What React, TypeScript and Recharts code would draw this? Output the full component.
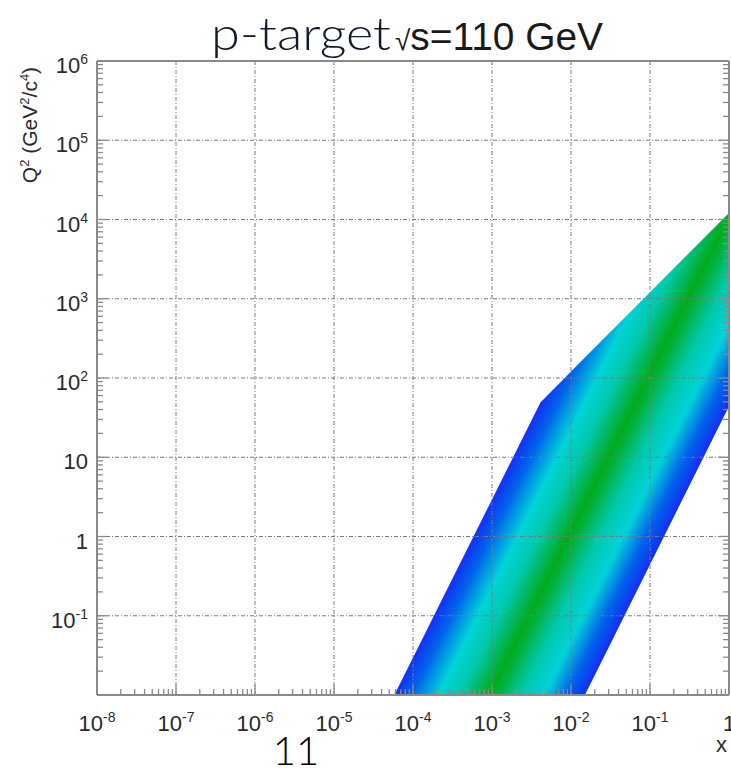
import { Area, ComposedChart, ReferenceLine, XAxis, YAxis } from "recharts";

// band of accessible (x, Q^2) for p-target at sqrt(s)=110 GeV
const bandX = [5.8e-5, 4.1e-3, 1.5e-2, 1];
const bandLow = [0.01, 0.01, 0.01, 44];
const bandHigh = [0.01, 49, 182, 12100];

// axis decades and their labels
const xDecades = [1e-8, 1e-7, 1e-6, 1e-5, 1e-4, 1e-3, 1e-2, 1e-1, 1];
const xLabels: [string, string][] = [
  ["10", "-8"], ["10", "-7"], ["10", "-6"], ["10", "-5"], ["10", "-4"],
  ["10", "-3"], ["10", "-2"], ["10", "-1"], ["1", ""],
];
const yDecades = [1e-2, 1e-1, 1, 10, 1e2, 1e3, 1e4, 1e5, 1e6];
const yLabels: [string, string][] = [
  ["", ""], ["10", "-1"], ["1", ""], ["10", ""], ["10", "2"],
  ["10", "3"], ["10", "4"], ["10", "5"], ["10", "6"],
];
const minorSteps = [2, 3, 4, 5, 6, 7, 8, 9];
const xGrid = [1e-7, 1e-6, 1e-5, 1e-4, 1e-3, 1e-2, 1e-1];
const yGrid = [1e-1, 1, 10, 1e2, 1e3, 1e4, 1e5];

const withMinors = (dec: number[]) => {
  const out: number[] = [];
  dec.forEach((d, i) => {
    out.push(d);
    if (i < dec.length - 1) minorSteps.forEach((m) => out.push(m * d));
  });
  return out;
};
const xTicks = withMinors(xDecades);
const yTicks = withMinors(yDecades);

const data = bandX.map((x, i) => ({ x, range: [bandLow[i], bandHigh[i]] }));

const axisColor = "#8a8a8a";
const labelFont = "'Liberation Sans', Arial, Helvetica, sans-serif";
const thinFont = "Lato, 'Open Sans', sans-serif";
const MAJOR = 10;
const MINOR = 6;

const BottomTick = (props: any) => {
  const { x, y, payload } = props;
  const i = xDecades.indexOf(payload.value);
  const major = i >= 0;
  return (
    <g>
      <line x1={x} x2={x} y1={y} y2={y - (major ? MAJOR : MINOR)} stroke={axisColor} strokeWidth={1.3} />
      {major && (
        <text x={x} y={y + 36} textAnchor="middle" fontSize={22} fill="#2a2a2a" fontFamily={labelFont}>
          {xLabels[i][0]}
          {xLabels[i][1] && (
            <tspan dy={-9} fontSize={14}>{xLabels[i][1]}</tspan>
          )}
        </text>
      )}
    </g>
  );
};

const TopTick = (props: any) => {
  const { x, y, payload } = props;
  const major = xDecades.includes(payload.value);
  return <line x1={x} x2={x} y1={y} y2={y + (major ? MAJOR : MINOR)} stroke={axisColor} strokeWidth={1.3} />;
};

const LeftTick = (props: any) => {
  const { x, y, payload } = props;
  const i = yDecades.indexOf(payload.value);
  const major = i >= 0;
  return (
    <g>
      <line x1={x} x2={x + (major ? MAJOR : MINOR)} y1={y} y2={y} stroke={axisColor} strokeWidth={1.3} />
      {major && yLabels[i][0] && (
        <text x={x - 9} y={y + 12} textAnchor="end" fontSize={22} fill="#2a2a2a" fontFamily={labelFont}>
          {yLabels[i][0]}
          {yLabels[i][1] && (
            <tspan dy={-9} fontSize={14}>{yLabels[i][1]}</tspan>
          )}
        </text>
      )}
    </g>
  );
};

const RightTick = (props: any) => {
  const { x, y, payload } = props;
  const major = yDecades.includes(payload.value);
  return <line x1={x} x2={x - (major ? MAJOR : MINOR)} y1={y} y2={y} stroke={axisColor} strokeWidth={1.3} />;
};

export default function App() {
  return (
    <div style={{ position: "absolute", left: 0, top: 0, width: 731, height: 771, background: "#fff" }}>
      <ComposedChart width={731} height={771} data={data} margin={{ top: 0, right: 0, bottom: 0, left: 0 }}>
        <defs>
          <linearGradient id="bandGrad" gradientUnits="userSpaceOnUse" x1={394} y1={695} x2={546} y2={771}>
            <stop offset="0" stopColor="#1230f4" />
            <stop offset="0.1" stopColor="#0068ea" />
            <stop offset="0.23" stopColor="#00d2d8" />
            <stop offset="0.35" stopColor="#00c8aa" />
            <stop offset="0.45" stopColor="#00b448" />
            <stop offset="0.5" stopColor="#00ac1c" />
            <stop offset="0.56" stopColor="#00b448" />
            <stop offset="0.66" stopColor="#00c8aa" />
            <stop offset="0.79" stopColor="#00d2d8" />
            <stop offset="0.9" stopColor="#0068ea" />
            <stop offset="1" stopColor="#1230f4" />
          </linearGradient>
        </defs>
        <XAxis
          dataKey="x"
          type="number"
          scale="log"
          domain={[1e-8, 1]}
          allowDataOverflow
          ticks={xTicks}
          interval={0}
          tick={BottomTick}
          tickLine={false}
          tickSize={0}
          tickMargin={0}
          height={76}
          axisLine={{ stroke: axisColor, strokeWidth: 2 }}
        />
        <XAxis
          xAxisId="top"
          orientation="top"
          type="number"
          scale="log"
          domain={[1e-8, 1]}
          allowDataOverflow
          ticks={xTicks}
          interval={0}
          tick={TopTick}
          tickLine={false}
          tickSize={0}
          tickMargin={0}
          height={61}
          axisLine={{ stroke: axisColor, strokeWidth: 2 }}
        />
        <YAxis
          type="number"
          scale="log"
          domain={[1e-2, 1e6]}
          allowDataOverflow
          ticks={yTicks}
          interval={0}
          tick={LeftTick}
          tickLine={false}
          tickSize={0}
          tickMargin={0}
          width={97}
          axisLine={{ stroke: axisColor, strokeWidth: 2 }}
        />
        <YAxis
          yAxisId="right"
          orientation="right"
          type="number"
          scale="log"
          domain={[1e-2, 1e6]}
          allowDataOverflow
          ticks={yTicks}
          interval={0}
          tick={RightTick}
          tickLine={false}
          tickSize={0}
          tickMargin={0}
          width={2}
          axisLine={{ stroke: axisColor, strokeWidth: 2 }}
        />
        <Area
          type="linear"
          dataKey="range"
          stroke="none"
          fill="url(#bandGrad)"
          fillOpacity={1}
          isAnimationActive={false}
          dot={false}
          activeDot={false}
        />
        {xGrid.map((v) => (
          <ReferenceLine key={"gx" + v} x={v} stroke="#7a7a7a" strokeDasharray="4 2 1 2" strokeWidth={1} />
        ))}
        {yGrid.map((v) => (
          <ReferenceLine key={"gy" + v} y={v} stroke="#7a7a7a" strokeDasharray="4 2 1 2" strokeWidth={1} />
        ))}
      </ComposedChart>
      <svg width={731} height={771} style={{ position: "absolute", left: 0, top: 0, pointerEvents: "none" }}>
        <text x={211} y={50} fontSize={46} fontWeight={300} fill="#0d1b2a" fontFamily={thinFont} textLength={180} lengthAdjust="spacingAndGlyphs">
          p-target
        </text>
        <text x={395} y={50} fontSize={39} fill="#1a1a1a" fontFamily={labelFont} textLength={208} lengthAdjust="spacingAndGlyphs">
          <tspan fontSize={28}>√</tspan>
          <tspan>s=110 GeV</tspan>
        </text>
        <text
          x={37}
          y={125}
          transform="rotate(-90 37 125)"
          textAnchor="middle"
          fontSize={21}
          fill="#2a2a2a"
          fontFamily={labelFont}
        >
          Q<tspan dy={-8} fontSize={13}>2</tspan>
          <tspan dy={8}> (GeV</tspan>
          <tspan dy={-8} fontSize={13}>2</tspan>
          <tspan dy={8}>/c</tspan>
          <tspan dy={-8} fontSize={13}>4</tspan>
          <tspan dy={8}>)</tspan>
        </text>
        <text x={716} y={752} fontSize={22} fill="#2a2a2a" fontFamily={labelFont}>
          x
        </text>
        <text x={296} y={765} textAnchor="middle" fontSize={40} fontWeight={300} fill="#000" fontFamily={thinFont}>
          11
        </text>
      </svg>
    </div>
  );
}
